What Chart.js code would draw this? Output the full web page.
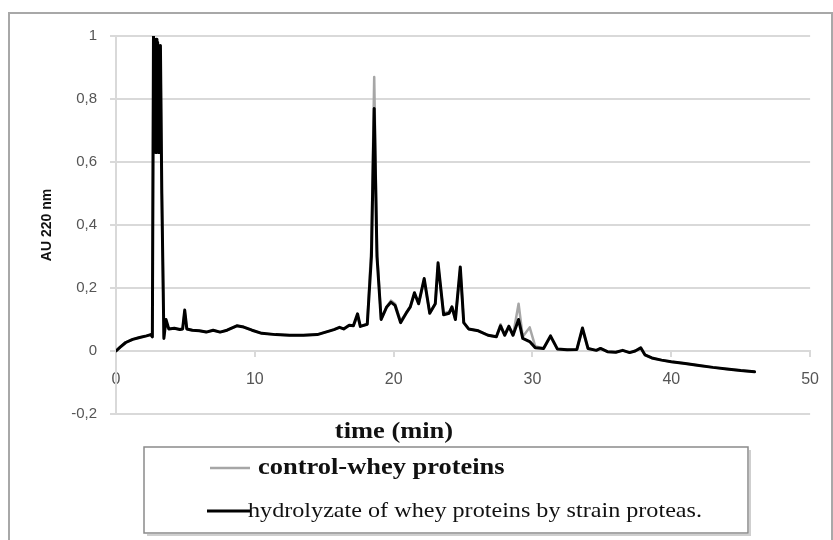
<!DOCTYPE html>
<html>
<head>
<meta charset="utf-8">
<script src="https://cdn.jsdelivr.net/npm/chart.js@4.4.1/dist/chart.umd.min.js"></script>
<style>
  html, body { margin: 0; padding: 0; background: #fff; }
  #wrap { width: 833px; height: 540px; }
</style>
</head>
<body>
<div id="wrap"><canvas id="chart" width="833" height="540"></canvas></div>
<script>
// retention time (min)
const times = [
  0, 0.3, 0.7, 1.2, 1.7, 2.2, 2.5, 2.62, 2.7, 2.75,
  2.8, 2.85, 2.9, 2.95, 3.0, 3.05, 3.1, 3.15, 3.2, 3.3,
  3.45, 3.6, 3.8, 4.2, 4.6, 4.8, 4.95, 5.1, 5.5, 6.0,
  6.5, 7.0, 7.5, 8.0, 8.7, 9.2, 9.8, 10.5, 11.5, 12.5,
  13.5, 14.5, 15.1, 15.7, 16.1, 16.4, 16.8, 17.1, 17.4, 17.6,
  18.1, 18.4, 18.6, 18.8, 19.1, 19.5, 19.8, 20.1, 20.5, 20.9,
  21.2, 21.5, 21.8, 22.2, 22.6, 23.0, 23.2, 23.6, 24.0, 24.2,
  24.45, 24.8, 25.05, 25.4, 26.1, 26.8, 27.4, 27.7, 28.0, 28.3,
  28.6, 29.0, 29.3, 29.8, 30.2, 30.8, 31.3, 31.8, 32.5, 33.2,
  33.6, 34.0, 34.6, 34.9, 35.4, 36.0, 36.5, 37.0, 37.4, 37.8,
  38.1, 38.6, 39.3, 40.0, 41.0, 42.0, 43.0, 44.0, 45.0, 46.0
];

// AU 220 nm, control (grey)
const control = [
  0, 0.012, 0.027, 0.037, 0.043, 0.048, 0.052, 0.045, 0.99, 0.65,
  0.98, 0.64, 0.98, 0.64, 0.97, 0.64, 0.95, 0.64, 0.96, 0.5,
  0.045, 0.095, 0.07, 0.072, 0.068, 0.07, 0.125, 0.07, 0.066, 0.064,
  0.06, 0.066, 0.06, 0.066, 0.08, 0.076, 0.066, 0.056, 0.052, 0.05,
  0.05, 0.052, 0.06, 0.068, 0.075, 0.07, 0.082, 0.08, 0.11, 0.078,
  0.085, 0.34, 0.87, 0.32, 0.1, 0.14, 0.16, 0.15, 0.095, 0.12,
  0.14, 0.18, 0.15, 0.225, 0.12, 0.15, 0.27, 0.12, 0.125, 0.14,
  0.1, 0.26, 0.09, 0.07, 0.064, 0.05, 0.045, 0.085, 0.05, 0.08,
  0.05, 0.15, 0.045, 0.075, 0.015, 0.008, 0.045, 0.006, 0.004, 0.005,
  0.07, 0.008, 0.002, 0.008, -0.002, -0.004, 0.002, -0.005, 0.0, 0.01,
  -0.012, -0.022, -0.029, -0.034, -0.04, -0.046, -0.052, -0.057, -0.062, -0.066
];

// AU 220 nm, hydrolyzate (black)
const hydrolyzate = [
  0, 0.012, 0.027, 0.037, 0.043, 0.048, 0.052, 0.045, 1.0, 0.64,
  0.99, 0.63, 0.99, 0.63, 0.98, 0.63, 0.96, 0.63, 0.97, 0.5,
  0.04, 0.1, 0.07, 0.072, 0.068, 0.07, 0.13, 0.07, 0.066, 0.064,
  0.06, 0.066, 0.06, 0.066, 0.08, 0.076, 0.066, 0.056, 0.052, 0.05,
  0.05, 0.052, 0.06, 0.068, 0.075, 0.07, 0.082, 0.08, 0.118, 0.078,
  0.085, 0.3, 0.77, 0.3, 0.1, 0.14, 0.155, 0.145, 0.09, 0.12,
  0.14, 0.185, 0.15, 0.23, 0.12, 0.15, 0.28, 0.115, 0.12, 0.14,
  0.1, 0.267, 0.09, 0.07, 0.064, 0.05, 0.045, 0.08, 0.05, 0.078,
  0.05, 0.1, 0.04, 0.03, 0.01, 0.008, 0.048, 0.006, 0.004, 0.005,
  0.073, 0.008, 0.002, 0.008, -0.002, -0.004, 0.002, -0.005, 0.0, 0.01,
  -0.012, -0.022, -0.029, -0.034, -0.04, -0.046, -0.052, -0.057, -0.062, -0.066
];

const seriesLabels = ["control-whey proteins", "hydrolyzate of whey proteins by strain proteas."];
const xTitle = "time (min)";
const yTitle = "AU 220 nm";

const toPoints = (ys) => times.map((t, i) => ({ x: t, y: ys[i] }));

const gridGrey = "#d9d9d9";

// frame, x title and the boxed legend (drawn by hand, Excel style)
const decor = {
  id: "decor",
  beforeDraw(chart) {
    const c = chart.ctx;
    c.save();
    c.fillStyle = "#fff";
    c.fillRect(0, 0, chart.width, chart.height);
    c.strokeStyle = "#a8a8a8";
    c.lineWidth = 2;
    c.strokeRect(9, 13, 823, 540);
    c.restore();
  },
  afterDraw(chart) {
    const c = chart.ctx;
    const sx = 1.15;
    const text = (str, x, y, font, align) => {
      c.save();
      c.font = font;
      c.textAlign = align;
      c.textBaseline = "middle";
      c.fillStyle = "#111";
      c.translate(x, y);
      c.scale(sx, 1);
      c.fillText(str, 0, 0);
      c.restore();
    };
    text(xTitle, 394, 432, "bold 23px 'Liberation Serif'", "center");

    // legend box with a soft shadow on the right and bottom
    const bx = 144, by = 447, bw = 604, bh = 86;
    c.save();
    c.strokeStyle = "#cfcfcf";
    c.lineWidth = 2;
    c.beginPath();
    c.moveTo(bx + 3, by + bh + 2);
    c.lineTo(bx + bw + 2, by + bh + 2);
    c.lineTo(bx + bw + 2, by + 3);
    c.stroke();
    c.strokeStyle = "#8a8a8a";
    c.lineWidth = 1.5;
    c.strokeRect(bx, by, bw, bh);
    c.restore();

    const ds = chart.data.datasets;
    const rows = [
      { y: 468, x0: 210, x1: 250, tx: 258, font: "bold 23px 'Liberation Serif'" },
      { y: 511, x0: 207, x1: 250, tx: 248, font: "21px 'Liberation Serif'" }
    ];
    rows.forEach((r, i) => {
      c.save();
      c.strokeStyle = ds[i].borderColor;
      c.lineWidth = ds[i].borderWidth;
      c.beginPath();
      c.moveTo(r.x0, r.y);
      c.lineTo(r.x1, r.y);
      c.stroke();
      c.restore();
      text(ds[i].label, r.tx, r.y, r.font, "left");
    });
  }
};

new Chart(document.getElementById("chart"), {
  type: "line",
  data: {
    datasets: [
      {
        label: seriesLabels[0],
        data: toPoints(control),
        borderColor: "#a6a6a6",
        borderWidth: 2.5,
        borderJoinStyle: "round",
        borderCapStyle: "round",
        pointRadius: 0,
        tension: 0,
        order: 2
      },
      {
        label: seriesLabels[1],
        data: toPoints(hydrolyzate),
        borderColor: "#000",
        borderWidth: 3,
        borderJoinStyle: "round",
        borderCapStyle: "round",
        pointRadius: 0,
        tension: 0,
        order: 1
      }
    ]
  },
  options: {
    responsive: false,
    animation: false,
    layout: { padding: { left: 0, right: 20, top: 36, bottom: 126 } },
    plugins: {
      legend: { display: false },
      tooltip: { enabled: false }
    },
    scales: {
      x: {
        type: "linear",
        position: { y: 0 },
        min: 0,
        max: 50,
        ticks: {
          stepSize: 10,
          padding: 14,
          color: "#555",
          font: { family: "Liberation Sans", size: 16 }
        },
        grid: { drawOnChartArea: false, drawTicks: true, tickLength: 5, color: gridGrey, lineWidth: 2 },
        border: { display: true, color: gridGrey, width: 2 }
      },
      y: {
        min: -0.2,
        max: 1,
        afterFit(scale) { scale.width = 116; },
        ticks: {
          stepSize: 0.2,
          padding: 13,
          color: "#555",
          font: { family: "Liberation Sans", size: 15 },
          callback: (v) => {
            const r = Math.round(v * 10) / 10;
            return Number.isInteger(r) ? String(r) : r.toFixed(1).replace(".", ",");
          }
        },
        grid: { color: gridGrey, lineWidth: 2, tickLength: 6 },
        border: { display: true, color: gridGrey, width: 2 },
        title: {
          display: true,
          text: yTitle,
          color: "#111",
          font: { family: "Liberation Sans", size: 14, weight: "bold" },
          padding: { top: 39, bottom: 0 }
        }
      }
    }
  },
  plugins: [decor]
});
</script>
</body>
</html>
